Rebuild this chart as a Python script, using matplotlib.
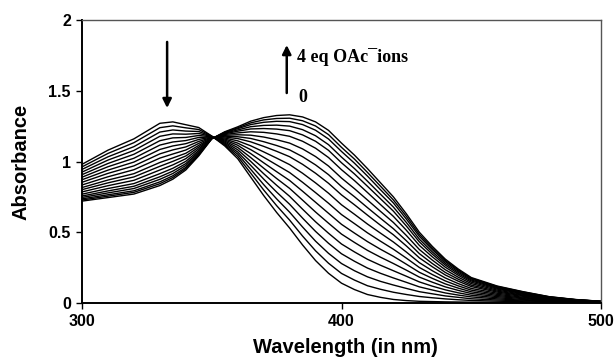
import numpy as np
import matplotlib
matplotlib.use("Agg")
import matplotlib.pyplot as plt

# wavelengths (nm) where the spectra were read
wavelengths = [300, 310, 320, 330, 335, 340, 345, 350, 355, 360, 365, 370, 375, 380, 385,
               390, 395, 400, 405, 410, 415, 420, 425, 430, 435, 440, 445, 450, 460, 470,
               480, 490, 500]

# absorbance at each wavelength for the 18 successive additions (0 -> 4 eq OAc-)
a300 = [.980, .962, .944, .925, .907, .889, .871, .853, .834, .816, .801, .785, .769, .756, .746, .736, .728, .720]
a310 = [1.080, 1.057, 1.033, 1.010, .986, .963, .939, .916, .892, .869, .849, .829, .809, .792, .778, .765, .755, .745]
a320 = [1.160, 1.133, 1.105, 1.078, 1.051, 1.023, .996, .969, .942, .914, .891, .867, .844, .825, .809, .793, .782, .770]
a330 = [1.270, 1.239, 1.208, 1.178, 1.147, 1.116, 1.085, 1.054, 1.024, .993, .966, .940, .914, .892, .874, .856, .843, .830]
a335 = [1.280, 1.252, 1.223, 1.195, 1.167, 1.138, 1.110, 1.082, 1.053, 1.025, 1.001, .976, .952, .932, .915, .899, .887, .875]
a340 = [1.260, 1.238, 1.215, 1.193, 1.170, 1.148, 1.126, 1.103, 1.081, 1.058, 1.039, 1.020, 1.001, .985, .972, .959, .950, .940]
a345 = [1.240, 1.226, 1.212, 1.198, 1.184, 1.170, 1.156, 1.142, 1.128, 1.114, 1.102, 1.090, 1.078, 1.068, 1.060, 1.052, 1.046, 1.040]
a350 = [1.180, 1.179, 1.177, 1.176, 1.174, 1.173, 1.172, 1.170, 1.169, 1.167, 1.166, 1.165, 1.164, 1.163, 1.162, 1.161, 1.161, 1.160]
a355 = [1.110, 1.117, 1.124, 1.131, 1.138, 1.145, 1.152, 1.159, 1.166, 1.173, 1.179, 1.185, 1.191, 1.196, 1.200, 1.204, 1.207, 1.210]
a360 = [1.020, 1.036, 1.052, 1.067, 1.083, 1.099, 1.115, 1.130, 1.146, 1.162, 1.175, 1.189, 1.202, 1.214, 1.223, 1.232, 1.238, 1.245]
a365 = [.890, .918, .945, .973, 1.001, 1.028, 1.056, 1.084, 1.111, 1.139, 1.163, 1.186, 1.210, 1.230, 1.246, 1.261, 1.273, 1.285]
a370 = [.760, .799, .837, .876, .914, .953, .991, 1.030, 1.068, 1.107, 1.140, 1.173, 1.206, 1.233, 1.255, 1.277, 1.294, 1.310]
a375 = [.640, .688, .736, .784, .832, .880, .928, .976, 1.024, 1.072, 1.113, 1.154, 1.195, 1.229, 1.257, 1.284, 1.304, 1.325]
a380 = [.530, .586, .642, .698, .754, .810, .866, .922, .978, 1.034, 1.082, 1.130, 1.178, 1.218, 1.250, 1.282, 1.306, 1.330]
a385 = [.410, .473, .537, .600, .663, .727, .790, .853, .917, .980, 1.034, 1.089, 1.143, 1.188, 1.225, 1.261, 1.288, 1.315]
a390 = [.300, .369, .437, .506, .574, .643, .712, .780, .849, .917, .976, 1.035, 1.094, 1.143, 1.182, 1.221, 1.251, 1.280]
a395 = [.210, .281, .351, .422, .493, .564, .634, .705, .776, .846, .907, .968, 1.028, 1.079, 1.119, 1.159, 1.190, 1.220]
a400 = [.140, .209, .279, .348, .417, .487, .556, .625, .694, .764, .823, .883, .942, .991, 1.031, 1.071, 1.100, 1.130]
a405 = [.095, .162, .228, .295, .361, .428, .494, .561, .627, .694, .751, .808, .865, .912, .950, .988, 1.017, 1.045]
a410 = [.060, .122, .185, .247, .309, .372, .434, .496, .558, .621, .674, .728, .781, .825, .861, .897, .923, .950]
a415 = [.040, .097, .153, .210, .267, .324, .380, .437, .494, .550, .599, .648, .696, .737, .769, .801, .826, .850]
a420 = [.025, .076, .127, .177, .228, .279, .330, .380, .431, .482, .525, .569, .612, .649, .678, .707, .728, .750]
a425 = [.017, .060, .103, .146, .189, .232, .274, .317, .360, .403, .440, .477, .514, .544, .569, .593, .612, .630]
a430 = [.012, .046, .080, .114, .149, .183, .217, .251, .285, .319, .349, .378, .407, .432, .451, .471, .485, .500]
a435 = [.010, .037, .065, .092, .119, .147, .174, .201, .228, .256, .279, .303, .326, .345, .361, .377, .388, .400]
a440 = [.008, .029, .050, .071, .093, .114, .135, .156, .177, .198, .216, .235, .253, .268, .280, .292, .301, .310]
a445 = [.007, .023, .040, .056, .072, .089, .105, .121, .137, .154, .168, .182, .196, .207, .217, .226, .233, .240]
a450 = [.006, .018, .030, .043, .055, .067, .079, .091, .103, .116, .126, .137, .147, .156, .163, .170, .175, .180]
a460 = [.005, .013, .021, .029, .037, .045, .053, .061, .069, .077, .084, .091, .098, .104, .109, .113, .117, .120]
a470 = [.004, .009, .015, .020, .025, .031, .036, .041, .047, .052, .056, .061, .066, .069, .072, .075, .078, .080]
a480 = [.003, .006, .009, .012, .015, .018, .021, .024, .027, .029, .032, .035, .037, .039, .041, .042, .044, .045]
a490 = [.003, .005, .006, .008, .009, .011, .012, .014, .015, .017, .018, .020, .021, .022, .023, .024, .024, .025]
a500 = [.002, .003, .003, .004, .005, .006, .006, .007, .008, .008, .009, .010, .010, .011, .011, .011, .012, .012]

xticks = [300, 400, 500]
yticks = [0, 0.5, 1, 1.5, 2]
ytick_labels = ["0", "0.5", "1", "1.5", "2"]

spectra = np.column_stack([a300, a310, a320, a330, a335, a340, a345, a350, a355, a360, a365,
                           a370, a375, a380, a385, a390, a395, a400, a405, a410, a415, a420,
                           a425, a430, a435, a440, a445, a450, a460, a470, a480, a490, a500])

plt.rcParams['font.family'] = ['Liberation Sans', 'DejaVu Sans']

fig = plt.figure(figsize=(6.16, 3.62), dpi=100)
ax = fig.add_axes([82 / 616, 1 - 303 / 362, (601 - 82) / 616, (303 - 20) / 362])

for row in spectra:
    ax.plot(wavelengths, row, color='black', lw=1.0)

ax.set_xlim(300, 500)
ax.set_ylim(0, 2)
ax.set_xticks(xticks)
ax.set_xticklabels([str(t) for t in xticks], fontsize=11.5, fontweight='bold')
ax.set_yticks(yticks)
ax.set_yticklabels(ytick_labels, fontsize=11.5, fontweight='bold')
ax.tick_params(axis='both', direction='out', length=4, width=1, pad=4)

for side in ['left', 'bottom']:
    ax.spines[side].set_color('black')
    ax.spines[side].set_linewidth(1.4)
for side in ['top', 'right']:
    ax.spines[side].set_color('#555555')
    ax.spines[side].set_linewidth(1.0)

ax.set_xlabel("Wavelength (in nm)", fontsize=14.5, fontweight='bold')
ax.xaxis.set_label_coords(0.507, -0.159)
ax.xaxis.label.set_verticalalignment('center')
ax.set_ylabel("Absorbance", fontsize=14.5, fontweight='bold')
ax.yaxis.set_label_coords(-0.117, 0.5)
ax.yaxis.label.set_verticalalignment('center')

arrow = dict(arrowstyle='-|>', lw=1.8, color='black', mutation_scale=13, shrinkA=0, shrinkB=0)
ax.annotate("", xy=(332.8, 1.378), xytext=(332.8, 1.845), arrowprops=arrow)
ax.annotate("", xy=(378.9, 1.823), xytext=(378.9, 1.484), arrowprops=arrow)

ax.text(383.0, 1.739, "4 eq OAc\u00afions", fontsize=13, fontweight='bold',
        family=['Liberation Serif', 'DejaVu Serif'], va='center', ha='left')
ax.text(383.5, 1.449, "0", fontsize=13, fontweight='bold',
        family=['Liberation Serif', 'DejaVu Serif'], va='center', ha='left')

fig.savefig("out.png", dpi=100)
